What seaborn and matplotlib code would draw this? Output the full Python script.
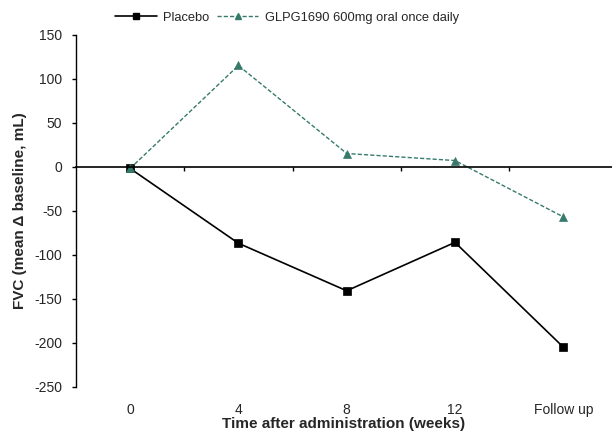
import matplotlib
matplotlib.use("Agg")
import matplotlib.pyplot as plt
from matplotlib.lines import Line2D
import seaborn as sns
import pandas as pd

timepoints = ["0", "4", "8", "12", "Follow up"]
placebo = [-2, -87, -141, -86, -205]
glpg = [-2, 115, 15, 7, -57]
groups = ["Placebo", "GLPG1690 600mg oral once daily"]
yticks = [-250, -200, -150, -100, -50, 0, 50, 100, 150]

df = pd.DataFrame({
    "time": timepoints * 2,
    "fvc": placebo + glpg,
    "group": [groups[0]] * len(timepoints) + [groups[1]] * len(timepoints),
})

sns.set_style("white")
plt.rcParams["font.family"] = ["Liberation Sans", "DejaVu Sans"]

teal = "#377A6C"
fig = plt.figure(figsize=(6.12, 4.32), dpi=100)
ax = fig.add_axes([76 / 612, 1 - 386.7 / 432, 536 / 612, 352 / 432])

sns.pointplot(data=df, x="time", y="fvc", hue="group", order=timepoints,
              hue_order=groups, palette=["black", teal], markers=["s", "^"],
              linestyles=["-", "--"], errorbar=None, dodge=False, ax=ax,
              legend=False)

styles = [dict(color="black", lw=1.2, marker="s", ms=5.2, ls="-"),
          dict(color=teal, lw=1.0, marker="^", ms=6, ls=(0, (3, 1.5)))]
for line, st in zip(ax.lines[:2], styles):
    line.set_color(st["color"])
    line.set_linewidth(st["lw"])
    line.set_marker(st["marker"])
    line.set_markersize(st["ms"])
    line.set_markerfacecolor(st["color"])
    line.set_markeredgecolor(st["color"])
    line.set_markeredgewidth(0.5)
    line.set_linestyle(st["ls"])

ax.set_xlim(-0.5, 4.45)
ax.set_ylim(-250, 150)
ax.set_yticks(yticks)
ax.set_yticklabels([str(v) for v in yticks])
ax.tick_params(axis="y", direction="out", length=3, width=1, pad=7,
               labelsize=10, left=True, color="black")

# x axis line at zero with boundary ticks
ax.spines["bottom"].set_position(("data", 0))
ax.spines["bottom"].set_color("black")
ax.spines["bottom"].set_linewidth(1.2)
ax.spines["left"].set_color("black")
ax.spines["left"].set_linewidth(1.0)
ax.spines["top"].set_visible(False)
ax.spines["right"].set_visible(False)
ax.set_xticks([0.5, 1.5, 2.5, 3.5])
ax.set_xticklabels([])
ax.tick_params(axis="x", direction="out", length=3, width=1, bottom=True, color="black")
ax.set_xlabel("")

sec = ax.secondary_xaxis(0)
sec.set_xticks(range(len(timepoints)))
sec.set_xticklabels(timepoints)
sec.tick_params(axis="x", length=0, pad=11.5, labelsize=10)
sec.spines["bottom"].set_visible(False)
sec.set_xlabel("Time after administration (weeks)", fontsize=11,
               fontweight="bold", labelpad=0.5)

ax.set_ylabel("FVC (mean \u0394 baseline, mL)", fontsize=11, fontweight="bold",
              labelpad=5)

handles = [Line2D([], [], color="black", lw=1.2, marker="s", ms=5, ls="-"),
           Line2D([], [], color=teal, lw=1.0, marker="^", ms=5, ls=(0, (3, 1.5)))]
fig.legend(handles, groups, loc="center", bbox_to_anchor=(0.469, 1 - 18 / 432),
           ncol=2, frameon=False, fontsize=9.3, handlelength=3.2,
           handletextpad=0.5, columnspacing=0.6)

fig.savefig("out.png", dpi=100)
